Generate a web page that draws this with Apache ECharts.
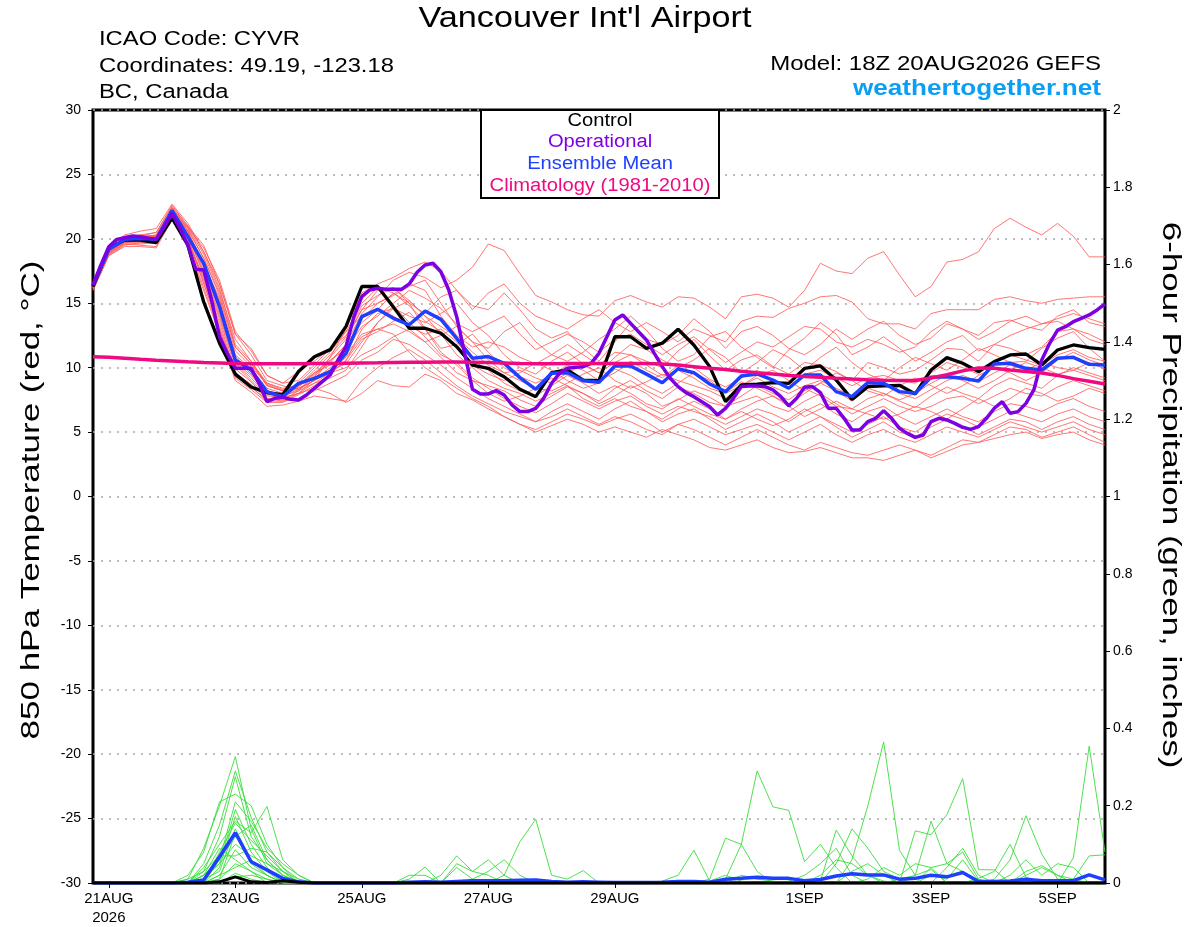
<!DOCTYPE html>
<html>
<head>
<meta charset="utf-8">
<script src="https://cdn.jsdelivr.net/npm/echarts@6/dist/echarts.min.js"></script>
<style>
html,body{margin:0;padding:0;background:#ffffff;}
#chart{width:1200px;height:927px;}
</style>
</head>
<body>
<div id="chart"></div>
<script>
// ---- x axis (6-hourly steps from 18Z 20AUG2026) ----
const xTickSteps = [1, 9, 17, 25, 33, 45, 53, 61];
const xTickLabels = ['21AUG\n2026', '23AUG', '25AUG', '27AUG', '29AUG', '1SEP', '3SEP', '5SEP'];

// ---- 850 hPa temperature (deg C), 6-hourly ----
const tempControl = [16.3,19.27,19.9,19.9,19.7,21.6,19.5,15.1,11.9,9.5,8.5,8.06,7.9,9.7,10.85,11.4,13.2,16.3,16.3,14.7,13.06,13.06,12.67,11.63,10.2,9.95,9.3,8.32,7.75,9.62,9.82,9.04,8.99,12.4,12.4,11.5,11.9,12.98,11.76,10.08,7.36,8.66,8.73,8.84,8.78,9.94,10.13,9.04,7.54,8.53,8.58,8.63,7.96,9.82,10.78,10.34,9.69,10.47,10.99,11.06,10.21,11.37,11.76,11.55,11.42];
const tempMean = [16.42,19.18,19.96,20.02,19.96,22.19,20.17,18.1,14.74,10.6,9.82,8.13,7.75,8.78,9.17,9.69,11.11,13.96,14.53,13.83,13.33,14.4,13.75,12.28,10.73,10.86,10.34,9.23,8.32,9.56,9.61,8.99,8.86,10.13,10.13,9.5,8.83,9.92,9.61,8.73,8.14,9.35,9.51,9.04,8.4,9.43,9.43,8.14,7.75,8.84,8.78,8.14,8.01,9.25,9.3,9.17,8.97,10.29,10.34,9.95,9.82,10.73,10.8,10.26,10.21];
const tempClimatology = [10.85,10.8,10.73,10.65,10.58,10.52,10.46,10.41,10.37,10.33,10.3,10.3,10.3,10.31,10.32,10.33,10.35,10.37,10.38,10.4,10.42,10.43,10.44,10.44,10.43,10.4,10.36,10.32,10.3,10.31,10.32,10.33,10.33,10.33,10.33,10.32,10.28,10.2,10.08,9.95,9.85,9.72,9.6,9.5,9.4,9.32,9.25,9.18,9.12,9.07,9.03,9.0,9.0,9.2,9.45,9.75,9.98,9.95,9.82,9.7,9.58,9.4,9.15,8.95,8.73];
// operational run is 3-hourly
const tempOperational3h = [16.42,17.97,19.39,19.96,20.09,20.22,20.17,20.04,19.96,20.9,21.98,20.8,19.52,17.63,17.58,15.25,12.4,11.1,9.95,9.95,9.95,8.78,7.36,7.62,7.7,7.54,7.49,7.88,8.4,8.91,9.43,10.6,11.63,13.96,15.51,16.03,16.16,16.08,16.08,16.08,16.5,17.4,17.97,18.1,17.45,16.03,13.96,11.11,8.32,7.96,7.96,8.22,7.88,7.1,6.59,6.59,6.84,7.62,8.79,9.56,9.95,10.03,10.08,10.34,11.11,12.4,13.7,14.09,13.44,12.79,12.15,11.11,10.08,9.18,8.53,8.06,7.75,7.36,6.97,6.33,6.84,7.62,8.53,8.58,8.58,8.53,8.27,7.75,7.03,7.62,8.48,8.53,8.06,6.85,6.85,6.07,5.16,5.16,5.81,6.07,6.66,6.07,5.29,4.9,4.59,4.77,5.81,6.07,5.94,5.68,5.37,5.21,5.42,6.07,6.85,7.36,6.46,6.59,7.23,8.27,10.6,11.89,12.92,13.18,13.57,13.83,14.09,14.48,14.94];

const tempMembers = [
[16.2,19.0,19.8,20.1,20.3,22.4,20.8, 18.5,15.8,11.6,10.3,8.6,8.2,8.6,9.5,10.4,11.8, 14.2,15.5,16.8,17.4,17.0,16.2,16.8,17.8, 19.6,19.1,17.3,15.6,15.1,14.5,14.1,14.0, 15.2,15.6,15.1,14.7,15.5,15.4,14.7,13.8, 15.5,15.7,15.4,14.7,16.0,18.1,17.5,17.3, 18.5,19.0,17.2,15.5,16.3,18.2,18.4,19.0, 20.8,21.6,20.9,20.3,21.2,20.2,18.6,18.6],
[16.4,19.2,20.0,20.3,20.5,22.6,21.0, 19.0,16.5,12.6,11.0,9.0,8.6,8.3,9.0,10.8,13.0, 15.8,16.5,17.0,17.7,18.2,17.5,16.0,14.5, 15.8,16.5,15.0,14.0,13.5,13.0,13.8,14.5, 13.5,12.8,13.5,12.8,12.0,13.0,12.5,12.0, 13.6,14.0,13.9,14.6,15.0,15.5,15.6,15.1, 13.8,13.4,13.4,13.0,14.2,14.5,14.5,14.5, 15.3,15.5,15.2,15.0,15.3,15.4,15.5,15.5],
[16.3,19.0,19.7,19.8,19.9,22.0,20.9, 19.3,16.8,12.8,11.3,9.4,8.8,9.0,10.2,11.5,12.5, 14.8,15.6,16.2,15.0,14.2,15.5,16.0,14.8, 14.5,15.8,14.5,13.0,12.3,12.8,11.5,10.5, 12.0,13.5,12.2,11.8,12.5,13.8,12.8,11.5, 12.8,13.2,12.5,11.5,11.0,11.8,13.0,12.2, 13.0,13.6,12.5,11.8,12.3,13.4,13.0,12.5, 13.5,13.7,13.2,12.9,14.0,14.5,13.5,13.2],
[16.1,18.8,19.6,19.5,19.4,21.8,20.3, 18.0,15.2,10.9,9.7,8.2,7.8,8.3,9.4,10.8,12.2, 14.5,15.0,15.6,16.3,16.8,15.0,13.2,12.0, 11.5,12.8,13.5,12.0,11.0,10.5,11.2,12.2, 13.0,14.0,12.9,11.5,10.5,11.0,12.4,12.8, 11.6,10.8,10.0,11.4,12.3,13.5,12.6,11.0, 11.6,12.4,11.5,10.5,11.2,12.0,12.5,11.3, 11.8,12.5,13.0,13.4,13.6,13.0,12.6,12.0],
[16.5,19.4,20.2,20.3,20.2,22.3,20.6, 17.5,14.5,10.4,9.4,8.0,7.6,8.0,9.1,10.0,11.0, 13.8,15.0,15.7,16.5,16.0,14.0,12.5,11.6, 12.0,11.6,10.8,10.3,11.0,11.8,11.0,10.2, 11.2,11.0,10.5,10.0,11.3,12.2,10.9,9.8, 10.6,11.0,10.1,9.5,10.4,10.2,9.7,9.0, 10.4,10.0,9.5,9.8,10.6,11.5,11.4,10.5, 11.8,11.5,11.0,11.6,12.8,13.0,12.2,11.8],
[16.0,18.7,19.5,19.7,19.8,21.7,19.8, 17.0,13.8,9.9,8.9,7.6,7.4,8.0,8.8,9.6,10.5, 13.0,14.2,14.6,14.0,13.5,14.2,15.0,13.5, 12.5,11.0,10.0,9.5,10.5,11.2,10.3,9.6, 10.8,11.8,11.4,10.6,10.0,10.6,11.5,10.8, 9.6,10.4,11.4,10.8,9.8,10.8,11.6,10.4, 9.5,9.0,10.0,10.8,10.3,9.8,10.6,11.5, 11.0,10.4,10.5,11.5,12.3,12.8,11.5,10.5],
[16.4,19.1,19.9,19.9,20.0,22.0,20.1, 16.8,13.5,9.6,8.7,7.6,7.5,8.2,9.3,10.5,11.8, 13.5,14.5,15.8,15.0,13.0,11.5,11.8,12.6, 11.2,10.0,9.3,8.8,9.4,10.2,9.8,9.0, 9.6,10.5,9.8,9.2,10.2,10.0,9.1,8.5, 9.2,9.8,9.0,8.4,9.5,9.8,9.2,8.6, 9.2,9.4,9.0,8.8,9.6,10.4,10.0,9.5, 10.5,11.0,10.6,10.2,11.0,11.4,10.8,10.5],
[16.2,18.9,19.7,20.0,20.2,22.2,20.5, 18.2,15.0,11.0,9.9,8.4,8.0,8.5,9.6,10.2,11.0, 12.6,13.0,13.4,12.8,12.0,12.5,13.2,12.0, 10.6,9.6,9.0,8.4,8.2,8.8,9.5,10.0, 9.0,8.4,8.9,9.5,9.0,8.6,8.2,7.6, 8.6,9.2,8.5,8.0,8.6,9.0,8.4,7.8, 8.6,8.9,8.0,7.6,8.3,9.0,9.4,8.9, 9.6,10.2,9.8,10.4,10.0,9.8,9.4,9.0],
[16.3,19.0,19.8,19.9,19.9,21.9,20.0, 16.5,13.2,9.5,8.5,7.5,7.6,8.8,10.0,11.2,12.8, 15.0,16.2,15.8,14.8,13.6,12.8,11.6,10.2, 9.5,9.0,9.6,10.4,9.8,9.0,8.4,8.8, 9.9,9.4,8.6,8.0,8.8,9.6,9.0,8.1, 8.9,8.4,7.8,7.2,8.0,8.8,8.2,7.4, 8.4,8.0,7.5,8.0,8.8,9.4,9.0,8.4, 9.0,9.8,10.4,10.0,9.5,9.8,10.4,9.9],
[16.6,19.4,20.3,20.6,20.8,22.7,21.2, 19.0,16.2,11.8,10.5,8.8,8.4,8.6,9.2,9.8,10.3, 12.0,13.5,14.6,15.2,14.0,12.6,11.0,10.0, 9.0,8.4,8.0,7.4,8.0,8.6,8.0,7.4, 8.4,9.0,8.2,7.6,8.5,8.0,7.3,7.0, 7.8,8.6,8.0,7.5,8.4,7.8,7.0,6.8, 7.6,8.0,7.4,6.9,7.8,8.5,8.0,7.6, 8.6,9.2,8.8,8.4,9.4,10.0,9.6,9.2],
[16.1,18.8,19.6,19.6,19.7,21.6,19.6, 16.2,12.9,9.2,8.3,7.3,7.3,7.9,8.6,9.5,10.6, 12.2,12.8,13.6,14.3,13.0,11.2,10.2,9.0, 8.6,8.2,7.5,7.0,7.8,8.5,8.0,7.2, 7.8,8.6,8.0,7.0,7.5,8.2,7.7,7.0, 7.4,7.8,7.0,6.6,7.4,8.0,7.2,6.4, 7.0,7.6,7.0,6.6,7.0,7.6,7.8,7.2, 7.8,8.4,8.0,7.8,8.5,9.0,8.6,8.2],
[16.4,19.2,20.0,20.1,20.3,22.4,20.9, 18.8,16.0,12.2,10.5,8.6,8.2,8.4,9.0,9.6,10.0, 11.0,11.6,12.4,13.0,12.0,10.8,9.6,9.0, 8.0,7.4,7.8,8.4,9.2,8.6,7.6,7.0, 7.6,7.0,6.6,6.0,6.8,7.4,6.8,6.0, 6.8,7.4,7.8,7.0,6.2,6.8,7.4,6.8, 6.4,6.0,6.4,7.0,6.6,6.0,6.8,7.6, 7.0,7.6,8.4,8.0,7.4,7.8,8.4,8.0],
[16.2,19.0,19.8,19.8,19.6,21.8,20.2, 17.4,14.2,10.3,9.2,7.9,7.8,8.2,8.8,9.2,9.8, 11.6,13.5,14.8,13.5,12.4,11.0,10.4,9.2, 8.4,7.6,7.0,6.5,7.2,8.0,7.4,6.8, 7.4,7.8,7.0,6.4,7.0,6.6,6.2,5.6, 6.2,6.8,6.4,5.8,6.6,7.2,6.4,5.8, 6.6,7.0,6.2,5.6,6.2,6.8,6.2,5.8, 6.6,7.2,7.0,6.6,7.2,7.6,7.0,6.6],
[16.3,19.1,20.0,20.2,20.5,22.5,21.0, 19.5,16.5,12.6,11.5,9.4,8.8,9.7,10.5,11.5,12.8, 14.0,14.6,14.0,13.2,12.6,13.0,12.0,10.6, 9.8,8.8,8.2,7.8,8.6,9.4,8.8,8.0, 8.6,8.0,7.2,6.8,7.6,7.0,6.4,6.0, 6.6,6.0,5.5,6.0,6.8,6.2,5.6,5.0, 5.6,6.2,5.4,5.0,5.8,6.4,6.0,5.4, 6.0,6.6,6.2,5.8,6.4,6.8,6.2,5.8],
[16.0,18.7,19.4,19.4,19.3,21.5,19.4, 16.0,12.6,9.0,8.1,7.0,7.1,7.4,7.8,7.6,7.4, 9.0,10.0,10.8,11.4,10.6,9.6,8.6,7.8, 7.2,6.6,6.2,5.8,6.6,7.2,6.6,6.0, 6.8,7.4,6.6,5.8,6.4,6.8,6.0,5.2, 5.8,6.4,5.8,5.0,5.6,6.2,5.4,4.6, 5.2,5.8,5.0,4.6,5.4,6.0,5.4,4.8, 5.4,6.0,5.8,5.2,5.8,6.2,5.6,5.2],
[16.5,19.3,20.1,20.2,20.1,22.0,20.3, 17.2,14.0,10.2,9.0,7.8,7.7,8.0,8.4,8.0,7.3, 8.0,9.0,8.6,8.5,9.5,9.0,8.0,7.5, 6.8,6.2,5.6,5.2,5.8,6.4,6.0,5.5, 6.0,6.4,5.8,5.0,5.6,6.0,5.4,4.8, 5.2,5.6,5.0,4.4,5.0,5.6,4.8,4.2, 4.8,5.2,4.6,4.2,4.8,5.4,5.0,4.6, 5.2,5.8,5.4,5.0,5.4,5.8,5.2,4.8],
[16.2,18.9,19.7,19.7,19.8,21.9,20.0, 16.6,13.0,9.3,8.5,7.4,7.4,7.6,8.2,8.8,9.4, 10.6,11.2,12.2,11.8,11.0,10.2,9.2,8.4, 7.6,7.0,6.4,5.8,6.2,6.8,6.2,5.6, 6.2,5.8,5.2,4.8,5.6,5.2,4.6,4.0, 4.6,5.2,4.6,4.0,3.6,4.2,3.8,3.4, 3.2,3.6,4.0,3.6,3.2,3.8,4.4,4.2, 4.8,5.4,5.2,4.6,5.0,5.4,4.8,4.2],
[16.3,19.0,19.9,20.0,20.0,22.1,20.3, 17.8,14.6,10.7,9.5,8.1,7.9,8.4,9.0,9.8,10.8, 12.4,13.0,12.6,11.2,10.0,9.2,8.4,7.6, 7.0,6.2,5.6,5.0,5.5,6.0,5.6,5.0, 5.4,5.0,4.6,5.2,4.8,4.4,3.8,3.6, 4.0,4.4,3.8,3.4,3.5,3.8,3.4,3.0, 3.0,2.8,3.2,3.6,3.0,3.5,4.0,4.2, 4.5,4.8,5.0,4.5,4.8,5.0,4.4,4.0],
[16.4,19.2,19.9,19.9,20.0,22.2,20.6, 18.0,15.4,11.3,10.1,8.7,8.2,8.6,9.8,11.0,12.4, 14.5,16.0,16.2,15.2,14.0,13.2,12.4,11.2, 10.2,9.6,9.8,9.2,8.8,9.6,10.2,9.6, 10.4,11.0,10.2,9.4,9.8,9.2,8.4,8.0, 8.6,9.4,9.8,9.0,8.2,8.8,9.6,9.0, 8.2,7.8,8.6,9.2,8.6,8.0,8.6,9.4, 10.0,9.6,9.0,9.6,10.6,11.2,10.6,10.2],
[16.3,19.1,20.0,20.1,20.2,22.3,20.7, 18.5,15.6,11.6,10.3,8.8,8.3,8.7,9.6,10.6,11.4, 13.2,14.0,15.0,16.0,15.4,14.6,13.4,12.8, 13.4,14.0,12.6,11.4,12.0,12.6,12.0,11.2, 12.2,12.6,11.8,11.0,11.8,12.4,11.4,10.4, 11.2,12.0,11.6,12.4,13.2,13.0,12.0,11.6, 12.2,11.8,11.2,11.6,12.8,13.6,13.0,12.2, 12.8,13.6,14.0,13.4,13.8,14.2,13.8,13.4]
];

// ---- 6-hour precipitation (inches) ----
const precipMean = [0,0,0,0,0,0,0.002,0.008,0.068,0.13,0.055,0.034,0.012,
 0.003,0,0,0,0,0,0,0.002,0.003,0.002,0.004,0.006,0.006,
 0.006,0.007,0.008,0.004,0.002,0.003,0.002,0.001,0.001,0.001,0.002,0.004,0.004,
 0.002,0.01,0.012,0.015,0.012,0.012,0.006,0.009,0.018,0.024,0.021,0.021,0.01,
 0.012,0.02,0.016,0.027,0.004,0.004,0.005,0.01,0.006,0.006,0.006,0.021,0.008];
const precipControl = [0,0,0,0,0,0,0,0,0.003,0.016,0.003,0.001,0.006,
 0.002,0,0,0,0,0,0,0,0,0,0,0,0,
 0,0,0,0,0,0,0,0,0,0,0,0,0,
 0,0,0,0,0,0,0,0,0,0,0,0,0,
 0,0,0,0,0,0,0,0,0,0,0,0,0];
const precipMembers = [
[0,0,0,0,0,0,.01,.09,.2,.327,.14,.05,.02, .005,0,0,0,0,0,0,0,0,0,0,0,0, 0,0,0,0,0,0,0,0,0,0,.005,.02,.085, .005,.02,.005,0,0,0,0,0,0,0,0,0,0, 0,0,0,0,0,0,0,0,0,0,0,0,0],
[0,0,0,0,0,0,0,.05,.15,.29,.17,.08,.03, 0,0,0,0,0,0,0,0,0,0,0,0,0, 0,0,0,0,0,0,0,0,0,0,0,0,0, 0,.01,.1,.29,.197,.188,.055,.1,.04,0,0,0,0, 0,0,0,0,0,0,0,0,0,0,0,0,0],
[0,0,0,0,0,0,.02,.08,.21,.23,.2,.1,.04, .01,0,0,0,0,0,0,.01,.041,0,0,0,0, 0,0,0,0,0,0,0,0,0,0,0,0,0, 0,0,0,0,0,.005,.02,.05,.09,.02,0,0,0, 0,0,0,0,0,0,0,0,0,0,0,0,0],
[0,0,0,0,0,0,0,.03,.12,.275,.12,.06,.02, 0,0,0,0,0,0,0,0,0,0,0,0,0, 0,0,0,0,0,0,0,0,0,0,0,0,0, .01,.116,.1,.03,0,0,0,0,0,0,0,0,0, 0,0,0,0,0,0,0,0,0,0,0,0,0],
[0,0,0,0,0,0,0,.02,.06,.21,.16,.09,.05, .02,0,0,0,0,0,0,0,0,.02,.07,.03,.06, .02,0,0,0,0,0,0,0,0,0,0,0,0, 0,0,.02,.01,.005,0,0,0,0,0,0,0,0, 0,0,0,0,0,0,0,0,0,0,0,0,0],
[0,0,0,0,0,0,0,.01,.05,.19,.1,.04,0, 0,0,0,0,0,0,0,0,0,0,0,0,0, 0,0,0,0,0,0,0,0,0,0,0,0,0, 0,0,0,0,0,0,0,.005,.137,.07,.02,.005,0, 0,0,0,0,0,0,0,0,0,0,0,0,0],
[0,0,0,0,0,0,0,0,.04,.172,.08,.03,.01, 0,0,0,0,0,0,0,0,0,0,0,0,0, 0,0,0,0,0,0,0,0,0,0,0,0,0, 0,0,0,0,0,0,0,0,.05,.14,.09,.03,.01, 0,0,0,0,0,0,0,0,0,0,0,0,0],
[0,0,0,0,0,0,0,.04,.1,.16,.13,.198,.06, .02,0,0,0,0,0,0,0,0,0,0,.01,.03, .06,.02,0,0,0,0,0,0,0,0,0,0,0, 0,0,0,0,0,0,0,0,0,0,0,0,0, 0,.02,.01,.06,.005,0,0,0,0,0,0,0,0],
[0,0,0,0,0,0,0,0,.08,.155,.11,.07,.03, 0,0,0,0,0,0,0,0,0,0,0,0,0, .02,.107,.165,.02,.01,.032,0,0,0,0,0,0,0, 0,0,0,0,0,0,0,0,0,0,0,0,0, 0,0,0,0,0,0,0,.03,.045,.02,.01,0,0],
[0,0,0,0,0,0,0,.01,.03,.14,.06,.02,0, 0,0,0,0,0,0,0,0,0,0,0,0,0, 0,0,0,0,0,0,0,0,0,0,0,0,0, 0,0,0,0,0,0,0,0,0,.06,.2,.365,.085, .02,.035,0,0,0,0,0,0,0,0,0,0,0],
[0,0,0,0,0,0,0,0,.06,.12,.15,.06,.02, 0,0,0,0,0,0,0,0,0,0,0,0,0, 0,0,0,0,0,0,0,0,0,0,0,0,0, 0,0,0,0,0,0,0,.02,.06,.05,.02,0,0, .135,.125,.177,.27,.0345,.034,0,0,0,0,0,0,0],
[0,0,0,0,0,0,0,.02,.05,.1,.07,.05,.03, .01,0,0,0,0,0,0,.02,.02,0,.04,.01,0, 0,0,0,0,0,0,0,0,0,0,0,0,0, 0,0,0,0,0,0,0,0,0,0,.01,.04,.02, .05,.04,0,0,0,0,0,0,0,0,0,0,0],
[0,0,0,0,0,0,0,0,.02,.086,.04,.02,0, 0,0,0,0,0,0,0,0,0,0,0,0,0, 0,0,0,0,0,0,0,0,0,0,0,0,0, 0,0,0,0,0,0,0,0,0,0,0,0,.01, .02,.16,.05,.03,0,0,0,0,0,0,0,0,0],
[0,0,0,0,0,0,.01,.03,.07,.07,.09,.08,.04, 0,0,0,0,0,0,0,0,0,0,.05,.03,.02, 0,0,0,0,0,0,0,0,0,0,0,0,0, 0,0,0,0,0,0,0,0,0,0,0,0,0, 0,0,0,0,.012,.03,.1,.015,0,0,0,0,0],
[0,0,0,0,0,0,0,0,.01,.05,.03,.01,0, 0,0,0,0,0,0,0,0,0,0,0,0,0, 0,0,0,0,0,0,0,0,0,0,0,0,0, 0,0,0,0,0,0,0,0,0,0,0,0,0, 0,.04,.05,.08,.01,0,0,0,0,0,0,0,0],
[0,0,0,0,0,0,0,0,.02,.04,.06,.03,0, 0,0,0,0,0,0,0,0,0,0,0,0,0, 0,0,0,0,0,0,0,0,0,0,0,0,0, 0,0,0,0,0,0,0,0,0,0,0,0,0, 0,0,0,0,0,.01,.06,.174,.075,.01,0,0,0],
[0,0,0,0,0,0,0,0,0,.025,.01,0,0, 0,0,0,0,0,0,0,0,0,0,0,0,0, 0,0,0,0,0,0,0,0,0,0,0,0,0, 0,0,0,0,0,0,0,0,0,0,0,0,0, 0,0,0,0,0,0,.02,.06,.02,.05,.04,0,0],
[0,0,0,0,0,0,0,0,.01,.13,.05,.02,0, 0,0,0,0,0,0,0,0,0,0,0,0,0, 0,0,0,0,0,0,0,0,0,0,0,0,0, 0,0,0,0,0,0,0,0,0,0,0,0,0, 0,0,0,0,0,0,0,0,0,0,.065,.354,.08],
[0,0,0,0,0,0,0,.02,.09,.06,.03,0,0, 0,0,0,0,0,0,0,0,0,0,0,0,0, 0,0,0,0,0,0,0,0,0,0,0,0,0, 0,0,0,0,0,0,0,0,0,0,0,0,0, 0,0,0,0,0,0,0,0,0,0,.01,.07,.073],
[0,0,0,0,0,0,0,0,0,.015,.02,.01,0, 0,0,0,0,0,0,0,0,0,0,0,0,0, 0,0,0,0,0,0,0,0,0,0,0,0,0, 0,0,0,0,0,0,0,0,0,.03,.05,.02,0, 0,0,.04,.09,.02,0,0,.02,.04,.02,0,0,0]
];

// ---- colours ----
const C_MEMBER = '#ff5555';
const C_PRECIP = '#3bdc3b';
const C_CONTROL = '#000000';
const C_OPER = '#7d00e2';
const C_MEAN = '#1f3fff';
const C_CLIM = '#ef0a82';
const FONT = '"Liberation Sans", Arial, Helvetica, sans-serif';

const idx = arr => arr.map((v, i) => [i, v]);

const series = [];
tempMembers.forEach((m, k) => series.push({
  name: 'member' + (k + 1), type: 'line', data: idx(m), xAxisIndex: 0, yAxisIndex: 0,
  symbol: 'none', silent: true, z: 2,
  lineStyle: { color: C_MEMBER, width: 0.9, opacity: 0.9 }
}));
precipMembers.forEach((m, k) => series.push({
  name: 'precip member' + (k + 1), type: 'line', data: idx(m), xAxisIndex: 0, yAxisIndex: 1,
  symbol: 'none', silent: true, z: 2,
  lineStyle: { color: C_PRECIP, width: 0.9 }
}));
series.push({ name: 'Ensemble Mean precip', type: 'line', data: idx(precipMean), yAxisIndex: 1,
  symbol: 'none', z: 3, lineStyle: { color: C_MEAN, width: 3.5 } });
series.push({ name: 'Control precip', type: 'line', data: idx(precipControl), yAxisIndex: 1,
  symbol: 'none', z: 3, lineStyle: { color: C_CONTROL, width: 3 } });
series.push({ name: 'Control', type: 'line', data: idx(tempControl), yAxisIndex: 0,
  symbol: 'none', z: 4, lineStyle: { color: C_CONTROL, width: 3.3 } });
series.push({ name: 'Ensemble Mean', type: 'line', data: idx(tempMean), yAxisIndex: 0,
  symbol: 'none', z: 4, lineStyle: { color: C_MEAN, width: 3.5 } });
series.push({ name: 'Operational', type: 'line', data: tempOperational3h.map((v, j) => [j / 2, v]), yAxisIndex: 0,
  symbol: 'none', z: 4, lineStyle: { color: C_OPER, width: 3.5 } });
series.push({ name: 'Climatology (1981-2010)', type: 'line', data: idx(tempClimatology), yAxisIndex: 0,
  symbol: 'none', z: 5, lineStyle: { color: C_CLIM, width: 3.5 } });

const labelOf = v => { const k = xTickSteps.indexOf(Math.round(v)); return k >= 0 ? xTickLabels[k] : ''; };

const chart = echarts.init(document.getElementById('chart'), null, { renderer: 'canvas' });
chart.setOption({
  animation: false,
  backgroundColor: '#ffffff',
  textStyle: { fontFamily: FONT },
  grid: { left: 93, right: 95, top: 110, bottom: 44, show: true, borderColor: '#000', borderWidth: 3, backgroundColor: 'transparent' },
  xAxis: {
    type: 'value', min: 0, max: 64,
    axisLine: { show: false, onZero: false },
    splitLine: { show: false },
    axisTick: { show: true, customValues: xTickSteps, length: 5, inside: false, lineStyle: { color: '#000', width: 1 } },
    axisLabel: { customValues: xTickSteps, formatter: labelOf, color: '#000', fontSize: 15, margin: 6, lineHeight: 19, fontFamily: FONT }
  },
  yAxis: [
    {
      type: 'value', min: -30, max: 30, interval: 5, position: 'left',
      axisLine: { show: false, onZero: false },
      axisTick: { show: true, length: 5, lineStyle: { color: '#000', width: 1 } },
      axisLabel: { color: '#000', fontSize: 14, margin: 12, fontFamily: FONT },
      splitLine: { show: true, lineStyle: { color: '#a8a8a8', width: 1.5, type: [2, 6] } }
    },
    {
      type: 'value', min: 0, max: 2, interval: 0.2, position: 'right',
      axisLine: { show: false, onZero: false },
      axisTick: { show: true, length: 5, lineStyle: { color: '#000', width: 1 } },
      axisLabel: { color: '#000', fontSize: 14, margin: 8, fontFamily: FONT,
        formatter: v => String(Math.round(v * 10) / 10) },
      splitLine: { show: false }
    }
  ],
  graphic: [
    { type: 'text', x: 585, y: 19, scaleX: 1.18, z: 100,
      style: { text: "Vancouver Int'l Airport", fontSize: 29, fontFamily: FONT, fill: '#000', align: 'center', verticalAlign: 'middle' } },
    { type: 'text', x: 99, y: 40, scaleX: 1.22, z: 100,
      style: { text: 'ICAO Code: CYVR', fontSize: 19.5, fontFamily: FONT, fill: '#000', align: 'left', verticalAlign: 'middle' } },
    { type: 'text', x: 99, y: 67, scaleX: 1.22, z: 100,
      style: { text: 'Coordinates: 49.19, -123.18', fontSize: 19.5, fontFamily: FONT, fill: '#000', align: 'left', verticalAlign: 'middle' } },
    { type: 'text', x: 99, y: 93, scaleX: 1.22, z: 100,
      style: { text: 'BC, Canada', fontSize: 19.5, fontFamily: FONT, fill: '#000', align: 'left', verticalAlign: 'middle' } },
    { type: 'text', x: 1101, y: 64, scaleX: 1.2, z: 100,
      style: { text: 'Model: 18Z 20AUG2026 GEFS', fontSize: 20, fontFamily: FONT, fill: '#000', align: 'right', verticalAlign: 'middle' } },
    { type: 'text', x: 1101, y: 89, scaleX: 1.16, z: 100,
      style: { text: 'weathertogether.net', fontSize: 22.5, fontWeight: 'bold', fontFamily: FONT, fill: '#0a9ff5', align: 'right', verticalAlign: 'middle' } },
    { type: 'text', x: 32, y: 500, rotation: Math.PI / 2, scaleX: 1.4, z: 100,
      style: { text: '850 hPa Temperature (red, °C)', fontSize: 25, fontFamily: FONT, fill: '#000', align: 'center', verticalAlign: 'middle' } },
    { type: 'text', x: 1170, y: 495, rotation: -Math.PI / 2, scaleX: 1.4, z: 100,
      style: { text: '6-hour Precipitation (green, inches)', fontSize: 25, fontFamily: FONT, fill: '#000', align: 'center', verticalAlign: 'middle' } },
    { type: 'rect', z: 100, shape: { x: 481, y: 110, width: 238, height: 88 },
      style: { fill: '#fff', stroke: '#000', lineWidth: 2 } },
    { type: 'text', x: 600, y: 121, scaleX: 1.12, z: 101,
      style: { text: 'Control', fontSize: 18, fontFamily: FONT, fill: C_CONTROL, align: 'center', verticalAlign: 'middle' } },
    { type: 'text', x: 600, y: 142.5, scaleX: 1.12, z: 101,
      style: { text: 'Operational', fontSize: 18, fontFamily: FONT, fill: C_OPER, align: 'center', verticalAlign: 'middle' } },
    { type: 'text', x: 600, y: 164.5, scaleX: 1.12, z: 101,
      style: { text: 'Ensemble Mean', fontSize: 18, fontFamily: FONT, fill: C_MEAN, align: 'center', verticalAlign: 'middle' } },
    { type: 'text', x: 600, y: 186, scaleX: 1.12, z: 101,
      style: { text: 'Climatology (1981-2010)', fontSize: 18, fontFamily: FONT, fill: C_CLIM, align: 'center', verticalAlign: 'middle' } }
  ],
  series: series
});
</script>
</body>
</html>
